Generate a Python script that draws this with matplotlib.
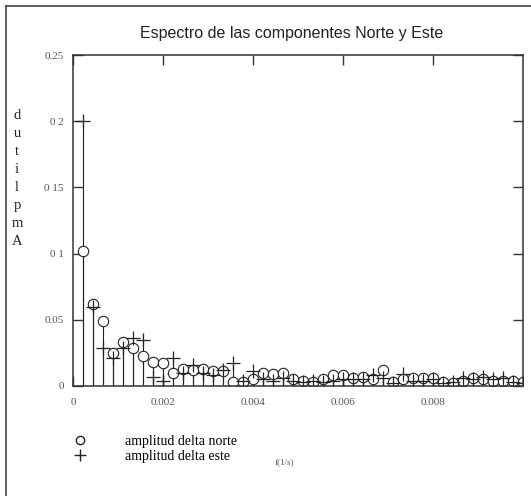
import numpy as np
import matplotlib
matplotlib.use("Agg")
import matplotlib.pyplot as plt
from matplotlib.lines import Line2D

df = 0.0002222
frecuencias = df * np.arange(1, 46)

amp_norte = [0.102, 0.062, 0.049, 0.025, 0.033, 0.029, 0.023, 0.018, 0.017, 0.010,
             0.013, 0.012, 0.013, 0.011, 0.011, 0.003, 0.003, 0.005, 0.010, 0.009,
             0.010, 0.005, 0.004, 0.003, 0.005, 0.008, 0.008, 0.006, 0.007, 0.005,
             0.012, 0.003, 0.005, 0.006, 0.006, 0.006, 0.003, 0.002, 0.004, 0.006,
             0.005, 0.004, 0.004, 0.004, 0.003]
amp_este = [0.200, 0.060, 0.029, 0.021, 0.029, 0.036, 0.035, 0.007, 0.004, 0.021,
            0.010, 0.016, 0.010, 0.008, 0.012, 0.017, 0.004, 0.011, 0.005, 0.004,
            0.006, 0.004, 0.003, 0.004, 0.003, 0.004, 0.005, 0.005, 0.005, 0.008,
            0.006, 0.002, 0.009, 0.004, 0.004, 0.005, 0.002, 0.003, 0.006, 0.005,
            0.007, 0.005, 0.006, 0.003, 0.002]

y_ticks = [0, 0.05, 0.1, 0.15, 0.2, 0.25]
y_labels = ["0", "0.05", "0 1", "0 15", "0 2", "0.25"]
x_ticks = [0, 0.002, 0.004, 0.006, 0.008]
x_labels = ["0", "0.002", "0.004", "0.006", "0.008"]

serif = "Liberation Serif"
gris = "#555555"

fig = plt.figure(figsize=(5.31, 4.96), dpi=100)
ax = fig.add_axes([0.1384, 0.2218, 0.8466, 0.6672])

# tallos
ax.vlines(frecuencias, 0, amp_norte, color="#222222", lw=0.8)
ax.vlines(frecuencias, 0, amp_este, color="#222222", lw=0.8)
ax.plot(frecuencias, amp_norte, "o", mfc="white", mec="#222222", ms=7.5, mew=0.8)
ax.plot(frecuencias, amp_este, "+", color="#222222", ms=10, mew=0.9)

ax.set_xlim(0, 0.01)
ax.set_ylim(0, 0.25)
ax.set_xticks(x_ticks)
ax.set_xticklabels(x_labels, fontfamily=serif, fontsize=8, color=gris)
ax.set_yticks(y_ticks)
ax.set_yticklabels(y_labels, fontfamily=serif, fontsize=8, color=gris)
ax.tick_params(direction="in", length=7, width=1, color="#333333",
               top=True, right=True, pad=9)
ax.tick_params(axis="y", pad=7)
for s in ax.spines.values():
    s.set_color("#333333")
    s.set_linewidth(1.1)

fig.text(0.55, 0.932, "Espectro de las componentes Norte y Este",
         ha="center", va="center", fontfamily="Liberation Sans", fontsize=11.5,
         color="#222222")

# etiqueta vertical letra por letra
fig.text(0.032, 0.640, "d\nu\nt\ni\nl\np\nm\nA", ha="center", va="center",
         fontfamily=serif, fontsize=10.5, linespacing=1.5, color="#222222")

fig.text(0.535, 0.069, "f(1/s)", ha="center", va="center",
         fontfamily=serif, fontsize=6.5, color=gris)

h_norte = Line2D([], [], marker="o", ls="none", mfc="white", mec="#222222", ms=6)
h_este = Line2D([], [], marker="+", ls="none", color="#222222", ms=9)
fig.legend([h_norte, h_este], ["amplitud delta norte", "amplitud delta este"],
           loc="upper left", bbox_to_anchor=(0.125, 0.137), frameon=False,
           prop={"family": serif, "size": 10}, handletextpad=2.7,
           labelspacing=0.12, borderpad=0, handlelength=1)

# marco exterior
fig.add_artist(Line2D([0.012, 0.012], [0, 0.988], transform=fig.transFigure,
                      color="#444444", lw=1.2))
fig.add_artist(Line2D([0.012, 1.0], [0.988, 0.988], transform=fig.transFigure,
                      color="#444444", lw=1.2))

fig.savefig("out.png", dpi=100)
